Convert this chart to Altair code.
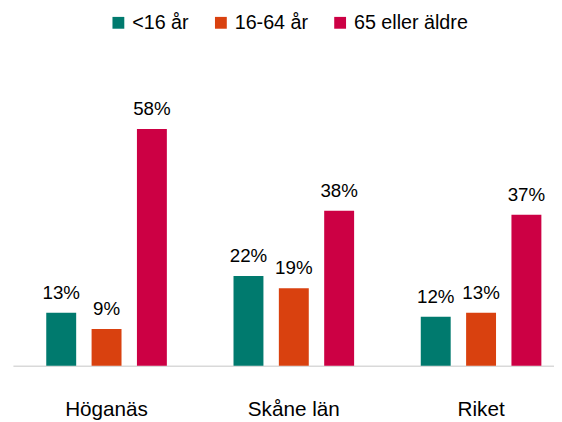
import altair as alt
import pandas as pd

regions = ["Höganäs", "Skåne län", "Riket"]
groups = ["<16 år", "16-64 år", "65 eller äldre"]
values = {
    "<16 år": [13, 22, 12],
    "16-64 år": [9, 19, 13],
    "65 eller äldre": [58, 38, 37],
}
colors = ["#007A6E", "#D9410F", "#CC0044"]

rows = []
for g in groups:
    for r, v in zip(regions, values[g]):
        rows.append({"region": r, "group": g, "value": v / 100, "label": f"{v}%"})
df = pd.DataFrame(rows)

font = "Liberation Sans"

base = alt.Chart(df).encode(
    x=alt.X("region:N", sort=regions, title=None,
            scale=alt.Scale(range=[0, 570], paddingInner=0, paddingOuter=0),
            axis=alt.Axis(labelFontSize=21, labelFont=font, labelColor="#000000",
                          labelPadding=33, ticks=False, domainColor="#D9D9D9",
                          domainWidth=1.5, labelAngle=0)),
    xOffset=alt.XOffset("group:N", sort=groups,
                        scale=alt.Scale(paddingInner=0.34, paddingOuter=0.735)),
    y=alt.Y("value:Q", scale=alt.Scale(domain=[0, 0.7]), axis=None),
)

bars = base.mark_bar().encode(
    color=alt.Color("group:N", sort=groups,
                    scale=alt.Scale(domain=groups, range=colors),
                    legend=alt.Legend(orient="none", legendX=97, legendY=-68,
                                      direction="horizontal", title=None,
                                      symbolType="square", symbolSize=144,
                                      symbolStrokeWidth=0, symbolOffset=0,
                                      labelFontSize=20, labelFont=font,
                                      labelColor="#000000", columnPadding=22,
                                      labelOffset=4)),
)

text = base.mark_text(fontSize=19, font=font, color="#000000", baseline="alphabetic",
                      dy=-14).encode(text="label:N")

chart = (bars + text).properties(
    width=549, height=290,
    padding={"left": 5, "top": 70, "right": 0, "bottom": 53},
    autosize=alt.AutoSizeParams(type="none"),
).configure_view(stroke=None)

chart.save("out.html", embed_options={"renderer": "svg", "actions": False})
